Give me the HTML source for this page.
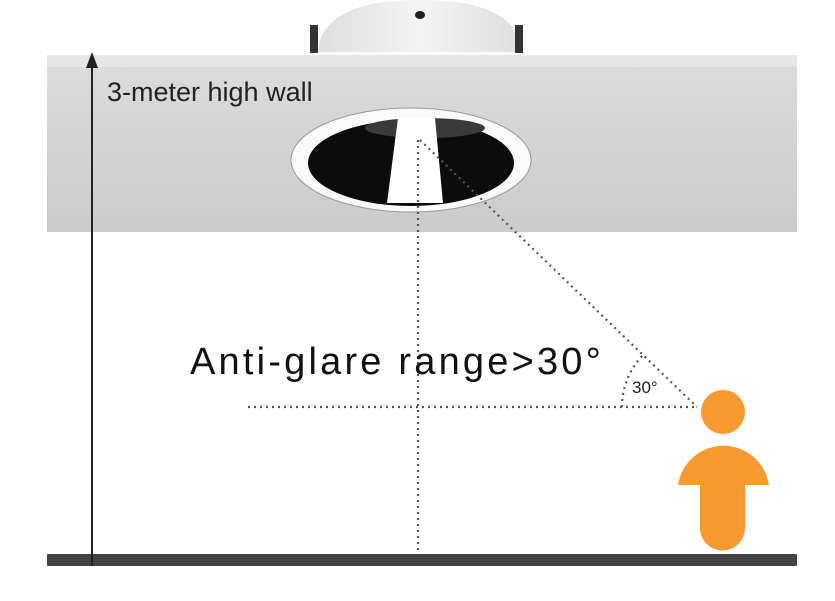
<!DOCTYPE html>
<html><head><style>
body{margin:0;background:#fff;}
svg{display:block}
text{font-family:"Liberation Sans",sans-serif;}
</style></head><body>
<svg width="835" height="601" viewBox="0 0 835 601">
<defs>
<linearGradient id="g" x1="0" y1="0" x2="0" y2="1">
<stop offset="0" stop-color="#dcdcdc"/><stop offset="1" stop-color="#cbcbcb"/>
</linearGradient>
<linearGradient id="d" x1="0" y1="0" x2="1" y2="0">
<stop offset="0" stop-color="#dedede"/><stop offset="0.5" stop-color="#f4f4f4"/><stop offset="1" stop-color="#dedede"/>
</linearGradient>
</defs>
<rect width="835" height="601" fill="#fff"/>
<path d="M318 52 Q322 0 420 0 Q518 0 522 52 Z" fill="url(#d)"/>
<rect x="310" y="25" width="8" height="28" fill="#333"/>
<rect x="515" y="25" width="8" height="28" fill="#333"/>
<ellipse cx="420" cy="15" rx="5" ry="4" fill="#222"/>
<rect x="47" y="55" width="750" height="177" fill="url(#g)"/>
<rect x="47" y="55" width="750" height="12" fill="#e6e6e6"/>
<ellipse cx="411" cy="160" rx="120" ry="52" fill="#fafafa" stroke="#999" stroke-width="1"/>
<ellipse cx="411" cy="163" rx="103" ry="43" fill="#0c0c0c"/>
<ellipse cx="425" cy="128" rx="60" ry="10" fill="#3a3a3a"/>
<polygon points="398,118 435,118 443,203 387,203" fill="#fff"/>
<rect x="47" y="554" width="750" height="12" fill="#444"/>
<line x1="92" y1="62" x2="92" y2="566" stroke="#222" stroke-width="2"/>
<polygon points="92,52 86,68 98,68" fill="#222"/>
<text x="107" y="101" font-size="27" fill="#222">3-meter high wall</text>
<g stroke="#555" stroke-width="2.2" stroke-dasharray="2 4" fill="none">
<line x1="418" y1="140" x2="418" y2="554"/>
<line x1="420" y1="140" x2="697" y2="407"/>
<line x1="248" y1="407" x2="697" y2="407"/>
<path d="M622 407 A75 75 0 0 1 643 355"/>
</g>
<text x="190" y="374" font-size="38" letter-spacing="3.2" fill="#111">Anti-glare range&gt;30°</text>
<text x="632" y="393" font-size="17" fill="#222">30°</text>
<g fill="#f99a31">
<circle cx="723" cy="412" r="22"/>
<path d="M678 485 A46 46 0 0 1 769 485 Z"/>
<path d="M700 480 H745 V528 A22.5 22.5 0 0 1 700 528 Z"/>
</g>
</svg>
</body></html>
